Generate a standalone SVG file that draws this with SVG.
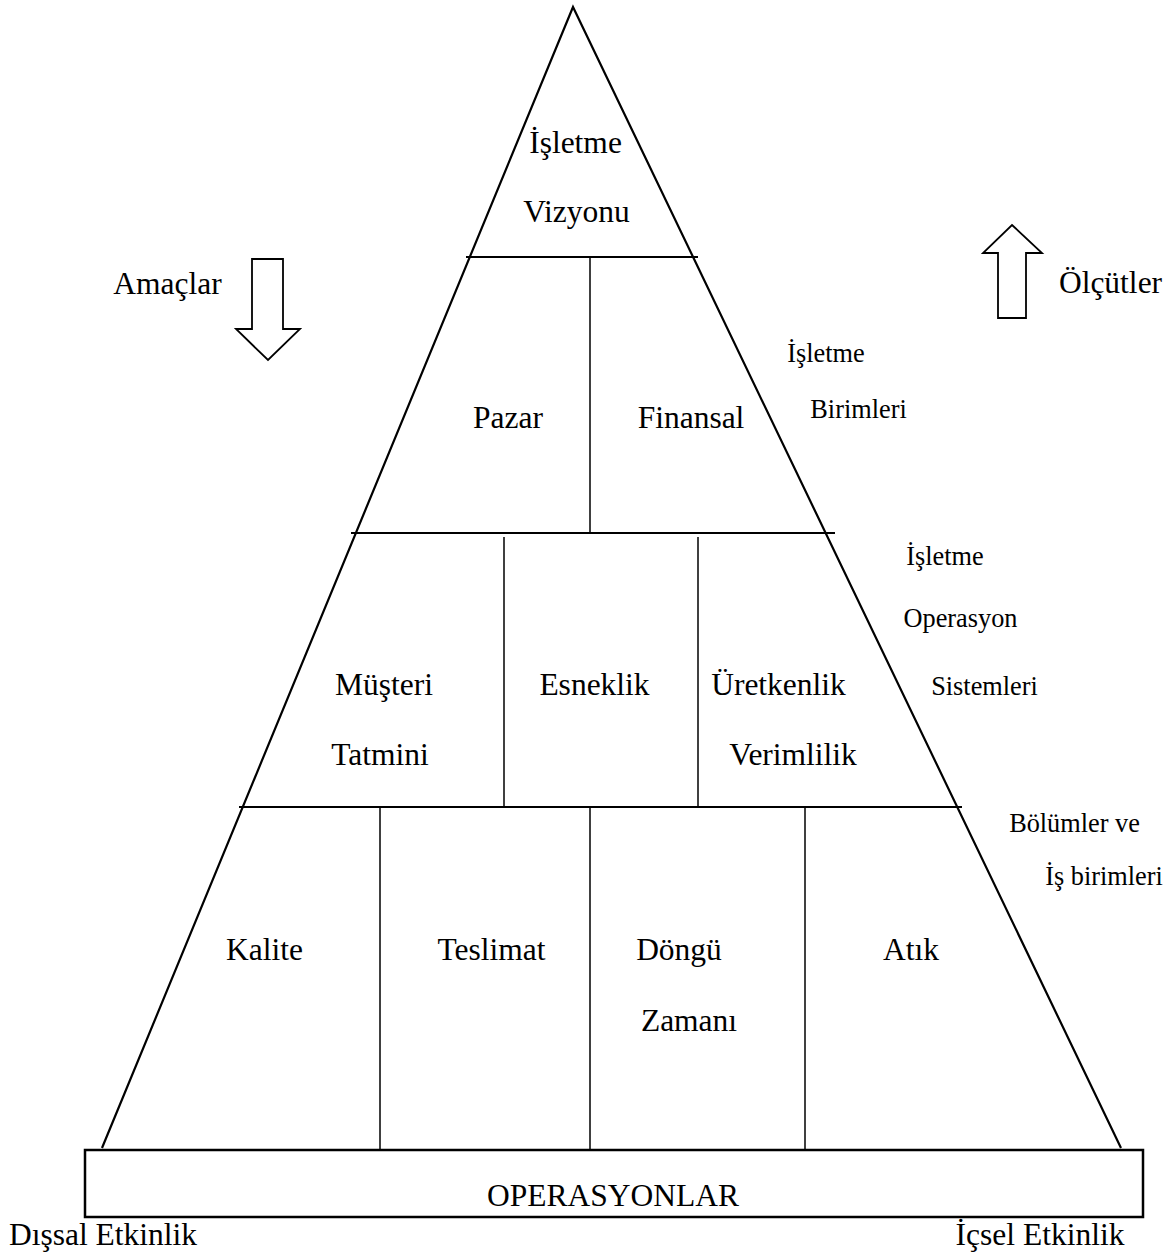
<svg xmlns="http://www.w3.org/2000/svg" width="1174" height="1257" viewBox="0 0 1174 1257">
  <style>
    .lbl { font-family: "Liberation Serif", "Times New Roman", serif; font-size: 31.5px; fill: #000; text-anchor: middle; }
    .side { font-family: "Liberation Serif", "Times New Roman", serif; font-size: 26.3px; fill: #000; text-anchor: middle; }
    .edge { fill: none; stroke: #000; stroke-width: 2.2; }
    .div { fill: none; stroke: #000; stroke-width: 1.5; }
    .arrow { fill: #fff; stroke: #000; stroke-width: 1.8; stroke-linejoin: miter; }
  </style>
  <rect width="1174" height="1257" fill="#fff"/>

  <!-- pyramid outline and level separators -->
  <g id="connectors">
    <path class="edge" d="M102,1148 L573,7 L1121,1148"/>
    <line class="edge" x1="466" y1="257" x2="698" y2="257"/>
    <line class="edge" x1="351" y1="533" x2="835" y2="533"/>
    <line class="edge" x1="239" y1="807" x2="962" y2="807"/>
    <line class="div" x1="590" y1="257" x2="590" y2="533"/>
    <line class="div" x1="504" y1="537" x2="504" y2="807"/>
    <line class="div" x1="698" y1="537" x2="698" y2="807"/>
    <line class="div" x1="380" y1="807" x2="380" y2="1150"/>
    <line class="div" x1="590" y1="807" x2="590" y2="1150"/>
    <line class="div" x1="805" y1="807" x2="805" y2="1150"/>
  </g>

  <!-- level 1 -->
  <g id="vizyon">
    <text class="lbl" x="575.5" y="153">İşletme</text>
    <text class="lbl" x="576.5" y="222">Vizyonu</text>
  </g>

  <!-- level 2 -->
  <g id="pazar"><text class="lbl" x="508" y="428">Pazar</text></g>
  <g id="finansal"><text class="lbl" x="691" y="428">Finansal</text></g>

  <!-- level 3 -->
  <g id="musteri">
    <text class="lbl" x="384" y="695">Müşteri</text>
    <text class="lbl" x="380" y="765">Tatmini</text>
  </g>
  <g id="esneklik"><text class="lbl" x="594.5" y="695">Esneklik</text></g>
  <g id="uretkenlik">
    <text class="lbl" x="778.5" y="695">Üretkenlik</text>
    <text class="lbl" x="793" y="765">Verimlilik</text>
  </g>

  <!-- level 4 -->
  <g id="kalite"><text class="lbl" x="264.5" y="960">Kalite</text></g>
  <g id="teslimat"><text class="lbl" x="491.5" y="960">Teslimat</text></g>
  <g id="dongu">
    <text class="lbl" x="679" y="960">Döngü</text>
    <text class="lbl" x="689" y="1031">Zamanı</text>
  </g>
  <g id="atik"><text class="lbl" x="911" y="960">Atık</text></g>

  <!-- base -->
  <g id="operasyonlar">
    <rect x="85" y="1150" width="1058" height="67" fill="#fff" stroke="#000" stroke-width="2.5"/>
    <text class="lbl" x="613" y="1206">OPERASYONLAR</text>
  </g>

  <!-- level captions on the right -->
  <g id="isletme-birimleri">
    <text class="side" x="826" y="362">İşletme</text>
    <text class="side" x="858.5" y="418">Birimleri</text>
  </g>
  <g id="operasyon-sistemleri">
    <text class="side" x="945" y="565">İşletme</text>
    <text class="side" x="960.5" y="627">Operasyon</text>
    <text class="side" x="984.5" y="695">Sistemleri</text>
  </g>
  <g id="bolumler">
    <text class="side" x="1074.5" y="832">Bölümler ve</text>
    <text class="side" x="1104" y="885">İş birimleri</text>
  </g>

  <!-- direction arrows -->
  <g id="amaclar">
    <text class="lbl" x="167.5" y="294">Amaçlar</text>
    <polygon class="arrow" points="252,259 283,259 283,329 300,329 268,360 236,329 252,329"/>
  </g>
  <g id="olcutler">
    <text class="lbl" x="1110.5" y="293">Ölçütler</text>
    <polygon class="arrow" points="1012,225 1042,253 1026,253 1026,318 998,318 998,253 983,253"/>
  </g>

  <!-- effectiveness captions -->
  <g id="dissal"><text class="lbl" x="103" y="1245">Dışsal Etkinlik</text></g>
  <g id="icsel"><text class="lbl" x="1040" y="1245">İçsel Etkinlik</text></g>
</svg>
